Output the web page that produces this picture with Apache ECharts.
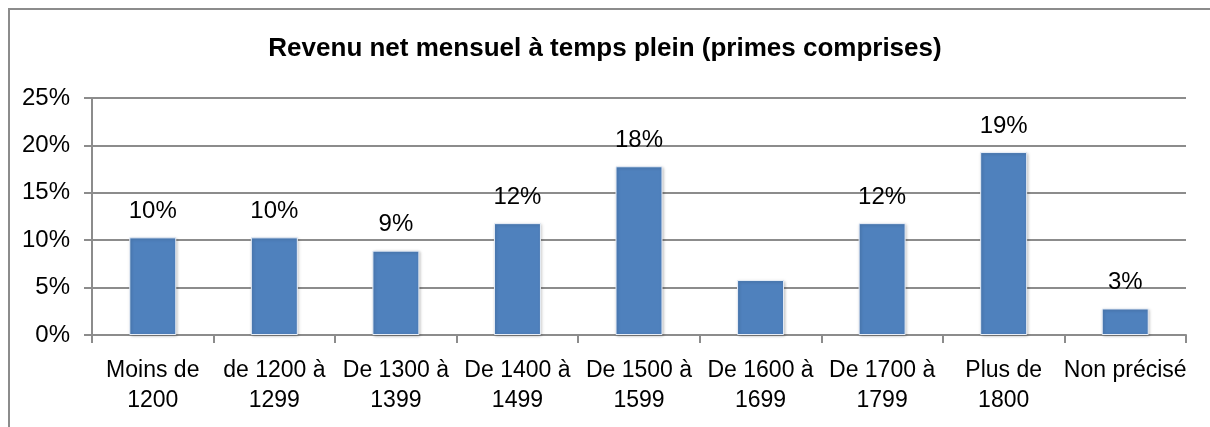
<!DOCTYPE html>
<html>
<head>
<meta charset="utf-8">
<script src="https://cdn.jsdelivr.net/npm/echarts@6/dist/echarts.min.js"></script>
<style>
	html, body { margin: 0; padding: 0; background: #fff; }
	#frame { position: absolute; left: 0; top: 0; width: 1210px; height: 427px; overflow: hidden; }
	#border { position: absolute; left: 8px; top: 8px; width: 1300px; height: 500px; border-left: 2px solid #8c8c8c; border-top: 2px solid #8c8c8c; }
	#bar { position: absolute; left: 0; top: 0; width: 1210px; height: 427px; }
</style>
</head>
<body>
<div id="frame">
	<div id="border"></div>
	<div id="bar"></div>
</div>
<script>
var categories = ['Moins de\n1200', 'de 1200 à\n1299', 'De 1300 à\n1399', 'De 1400 à\n1499', 'De 1500 à\n1599',
	'De 1600 à\n1699', 'De 1700 à\n1799', 'Plus de\n1800', 'Non précisé'];
var values = [10.3, 10.3, 8.9, 11.8, 17.8, 5.8, 11.8, 19.3, 2.8];
var labelShown = [true, true, true, true, true, false, true, true, true];
var yTicks = [0, 5, 10, 15, 20, 25];

var font = "'Liberation Sans Narrow', 'Arial Narrow', 'Liberation Sans', sans-serif";

var seriesData = [];
for (var i = 0; i < values.length; i++) {
	seriesData.push({
		value: values[i],
		label: { show: labelShown[i] }
	});
}

var myChart = echarts.init(document.getElementById('bar'));

var option = {
	animation: false,
	grid: {
		top: 98,
		bottom: 92,
		left: 92,
		right: 24
	},
	title: {
		text: 'Revenu net mensuel à temps plein (primes comprises)',
		left: 'center',
		top: 31,
		textStyle: {
			fontFamily: font,
			fontSize: 26,
			fontWeight: 'bold',
			color: '#000'
		}
	},
	xAxis: {
		type: 'category',
		data: categories,
		axisLine: { lineStyle: { color: '#8c8c8c', width: 2 } },
		axisTick: { show: true, length: 8, lineStyle: { color: '#8c8c8c', width: 2 } },
		axisLabel: {
			interval: 0,
			margin: 21,
			fontFamily: font,
			fontSize: 23,
			lineHeight: 30,
			color: '#000'
		}
	},
	yAxis: {
		type: 'value',
		min: yTicks[0],
		max: yTicks[yTicks.length - 1],
		interval: 5,
		axisLine: { show: true, lineStyle: { color: '#8c8c8c', width: 2 } },
		axisTick: { show: true, length: 8, lineStyle: { color: '#8c8c8c', width: 2 } },
		splitLine: { show: true, lineStyle: { color: '#8c8c8c', width: 2 } },
		axisLabel: {
			margin: 22,
			fontFamily: font,
			fontSize: 24,
			color: '#000',
			formatter: '{value}%'
		}
	},
	series: [
		{
			type: 'bar',
			data: seriesData,
			barWidth: 47,
			itemStyle: {
				color: '#4f81bd',
				borderColor: '#e8eef7',
				borderWidth: 1,
				shadowColor: 'rgba(0,0,0,0.25)',
				shadowBlur: 3,
				shadowOffsetX: 1,
				shadowOffsetY: 1
			},
			label: {
				position: 'top',
				distance: 14,
				fontFamily: font,
				fontSize: 24,
				color: '#000',
				formatter: function(p) {
					return Math.round(p.value) + '%';
				}
			}
		}
	]
};

myChart.setOption(option);
</script>
</body>
</html>
